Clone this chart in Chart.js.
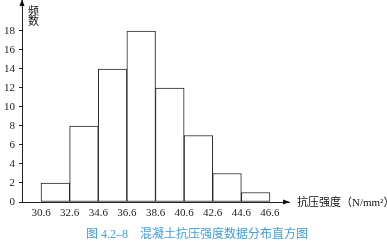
<!DOCTYPE html>
<html>
<head>
<meta charset="utf-8">
<script src="https://cdn.jsdelivr.net/npm/chart.js@4"></script>
<style>
  html, body { margin: 0; padding: 0; background: #fff; }
  #wrap { width: 387px; height: 243px; position: relative; }
</style>
</head>
<body>
<div id="wrap"><canvas id="chart"></canvas></div>
<script>
// bin edges and counts
const binEdges = [30.6, 32.6, 34.6, 36.6, 38.6, 40.6, 42.6, 44.6, 46.6];
const counts = [2, 8, 14, 18, 12, 7, 3, 1];
const yTicks = [0, 2, 4, 6, 8, 10, 12, 14, 16, 18];
const yLabel = ['频', '数'];
const xLabel = '抗压强度（N/mm²）';
const caption = '图 4.2–8　混凝土抗压强度数据分布直方图';

const FONT = "'Liberation Serif', 'Noto Sans CJK SC', serif";

const bars = counts.map((c, i) => ({ x: (binEdges[i] + binEdges[i + 1]) / 2, y: c }));

// axis arrows, axis labels and the figure caption
const axisDecor = {
  id: 'axisDecor',
  afterDraw(chart) {
    const { ctx, chartArea: a } = chart;
    ctx.save();
    ctx.fillStyle = '#111';
    // y arrow
    ctx.beginPath();
    ctx.moveTo(a.left, a.top - 1);
    ctx.lineTo(a.left - 2.5, a.top + 6);
    ctx.lineTo(a.left + 2.5, a.top + 6);
    ctx.closePath();
    ctx.fill();
    // x arrow
    ctx.beginPath();
    ctx.moveTo(a.right + 1, a.bottom);
    ctx.lineTo(a.right - 6, a.bottom - 2.5);
    ctx.lineTo(a.right - 6, a.bottom + 2.5);
    ctx.closePath();
    ctx.fill();

    ctx.font = "11px " + FONT;
    ctx.textBaseline = 'middle';
    ctx.textAlign = 'left';
    ctx.fillText(xLabel, a.right + 8, a.bottom + 1);

    ctx.textAlign = 'center';
    yLabel.forEach((ch, i) => ctx.fillText(ch, a.left + 11.5, a.top + 12 + i * 10));

    ctx.fillStyle = '#3f9fd6';
    ctx.font = "12px " + FONT;
    ctx.fillText(caption, 197, 235);
    ctx.restore();
  }
};

new Chart(document.getElementById('chart'), {
  type: 'bar',
  data: {
    datasets: [{
      data: bars,
      backgroundColor: '#fff',
      borderColor: '#222',
      borderWidth: 1,
      borderSkipped: false,
      barPercentage: 1,
      categoryPercentage: 1
    }]
  },
  options: {
    responsive: true,
    maintainAspectRatio: false,
    animation: false,
    layout: { padding: { top: 0, right: 98, left: 0, bottom: 21 } },
    plugins: {
      legend: { display: false },
      tooltip: { enabled: false },
      title: { display: false }
    },
    scales: {
      x: {
        type: 'linear',
        offset: false,
        min: 29.27,
        max: 47.93,
        grid: { drawOnChartArea: false, drawTicks: false, offset: false },
        border: { color: '#222', width: 1 },
        afterBuildTicks: s => { s.ticks = binEdges.map(v => ({ value: v })); },
        afterFit: s => { s.height = 20; s.paddingLeft = 0; s.paddingRight = 0; },
        ticks: {
          color: '#222',
          padding: 5,
          maxRotation: 0,
          autoSkip: false,
          font: { family: FONT, size: 11 },
          callback: v => Number(v).toFixed(1)
        }
      },
      y: {
        min: 0,
        max: 21.26,
        grid: { drawOnChartArea: false, tickLength: 3, color: '#222' },
        border: { color: '#222', width: 1 },
        afterBuildTicks: s => { s.ticks = yTicks.map(v => ({ value: v })); },
        afterFit: s => { s.width = 22; s.paddingTop = 0; s.paddingBottom = 0; },
        ticks: {
          color: '#222',
          padding: 4,
          font: { family: FONT, size: 11 }
        }
      }
    }
  },
  plugins: [axisDecor]
});
</script>
</body>
</html>
